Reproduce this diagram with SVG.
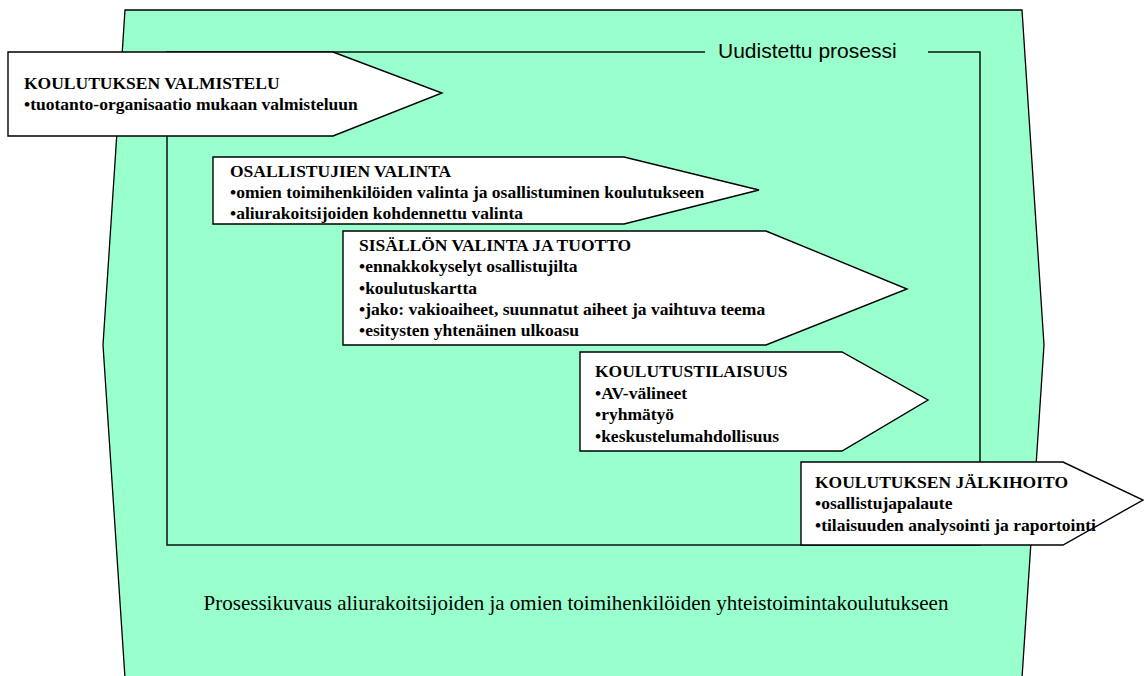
<svg xmlns="http://www.w3.org/2000/svg" width="1144" height="676" viewBox="0 0 1144 676">
<style>
.bg{fill:#99FFCC;stroke:#000;stroke-width:1.3}
.frame{fill:none;stroke:#111;stroke-width:1.5}
.box{fill:#fff;stroke:#000;stroke-width:1.4;stroke-linejoin:miter}
.t{font-family:"Liberation Serif","Times New Roman",serif;font-weight:bold;font-size:17.5px;fill:#000}
.lbl{font-family:"Liberation Sans",Arial,sans-serif;font-size:21px;fill:#000}
.cap{font-family:"Liberation Serif","Times New Roman",serif;font-size:21px;fill:#000}
</style>
<rect width="1144" height="676" fill="#fff"/>
<g id="background">
<polygon class="bg" points="125,10 1022,10 1044,345 1022,678 125,678 103,345"/>
</g>
<g id="frame">
<path class="frame" d="M705,52 H167 V545 H980 V52 H928"/>
<text class="lbl" x="718" y="58">Uudistettu prosessi</text>
</g>
<g id="connectors"></g>
<g id="node1">
<polygon class="box" points="8,52 333,52 442,93 333,136 8,136"/>
<text class="t" x="24" y="89">KOULUTUKSEN VALMISTELU</text>
<text class="t" x="24" y="110">•tuotanto-organisaatio mukaan valmisteluun</text>
</g>
<g id="node2">
<polygon class="box" points="213,157 624,157 759,190 624,224 213,224"/>
<text class="t" x="230" y="177">OSALLISTUJIEN VALINTA</text>
<text class="t" x="230" y="198">•omien toimihenkilöiden valinta ja osallistuminen koulutukseen</text>
<text class="t" x="230" y="219">•aliurakoitsijoiden kohdennettu valinta</text>
</g>
<g id="node3">
<polygon class="box" points="343,231 766,231 907,289 766,345 343,345"/>
<text class="t" x="359" y="251">SISÄLLÖN VALINTA JA TUOTTO</text>
<text class="t" x="359" y="272">•ennakkokyselyt osallistujilta</text>
<text class="t" x="359" y="294">•koulutuskartta</text>
<text class="t" x="359" y="315">•jako: vakioaiheet, suunnatut aiheet ja vaihtuva teema</text>
<text class="t" x="359" y="336">•esitysten yhtenäinen ulkoasu</text>
</g>
<g id="node4">
<polygon class="box" points="580,352 842,352 928,400 842,451 580,451"/>
<text class="t" x="595" y="377">KOULUTUSTILAISUUS</text>
<text class="t" x="595" y="399">•AV-välineet</text>
<text class="t" x="595" y="420">•ryhmätyö</text>
<text class="t" x="595" y="442">•keskustelumahdollisuus</text>
</g>
<g id="node5">
<polygon class="box" points="801,462 1063,462 1143,500 1063,545 801,545"/>
<text class="t" x="815" y="488">KOULUTUKSEN JÄLKIHOITO</text>
<text class="t" x="815" y="509">•osallistujapalaute</text>
<text class="t" x="815" y="531">•tilaisuuden analysointi ja raportointi</text>
</g>
<g id="caption">
<text class="cap" x="576" y="610" text-anchor="middle">Prosessikuvaus aliurakoitsijoiden ja omien toimihenkilöiden yhteistoimintakoulutukseen</text>
</g>
</svg>
